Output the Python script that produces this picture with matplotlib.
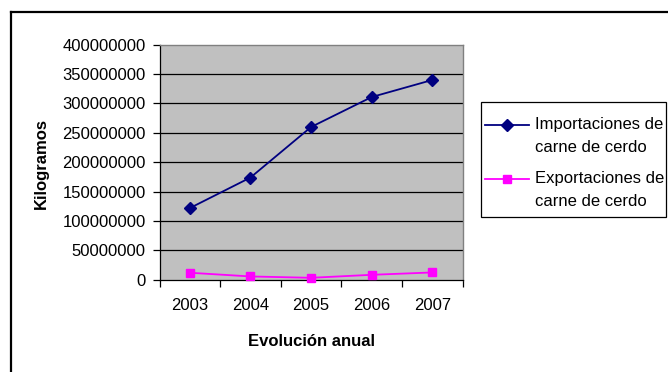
import matplotlib
matplotlib.use("Agg")
import matplotlib.pyplot as plt
from matplotlib.lines import Line2D
from matplotlib.patches import Rectangle

plt.rcParams['font.family'] = ['Liberation Sans', 'DejaVu Sans']

years = ["2003", "2004", "2005", "2006", "2007"]
importaciones = [122000000, 174000000, 260000000, 311000000, 340000000]
exportaciones = [12000000, 5700000, 3400000, 8500000, 12500000]
y_ticks = [0, 50000000, 100000000, 150000000, 200000000,
           250000000, 300000000, 350000000, 400000000]
series_labels = ["Importaciones de\ncarne de cerdo", "Exportaciones de\ncarne de cerdo"]
series_colors = ["#000080", "#FF00FF"]
series_markers = ["D", "s"]
series_msize = [6.5, 6]

W, H = 668, 372
FS = 12
fig = plt.figure(figsize=(W / 100, H / 100), dpi=100)


def fx(x):
    return x / W


def fy(y):
    return 1 - y / H


# outer chart frame (only its left and top edges are inside the canvas)
fig.add_artist(Line2D([fx(10.5), fx(10.5)], [0, fy(11.8)], color='black', lw=1.6,
                      transform=fig.transFigure))
fig.add_artist(Line2D([fx(10.5), 1], [fy(11.8), fy(11.8)], color='black', lw=1.6,
                      transform=fig.transFigure))

left, right, top, bottom = 159.5, 462.7, 44.7, 279.8
ax = fig.add_axes([fx(left), fy(bottom), (right - left) / W, (bottom - top) / H])
ax.set_facecolor('#C0C0C0')

x = list(range(len(years)))
ax.set_xlim(-0.5, len(years) - 0.5)
ax.set_ylim(0, 400000000)

for v in y_ticks[1:-1]:
    ax.axhline(v, color='black', lw=0.9, zorder=1)

for vals, col, mk, ms, lab in zip([importaciones, exportaciones], series_colors,
                                  series_markers, series_msize, series_labels):
    ax.plot(x, vals, color=col, lw=1.3, marker=mk, markersize=ms,
            markerfacecolor=col, markeredgecolor=col, zorder=3, clip_on=False,
            label=lab)

ax.set_yticks(y_ticks)
ax.set_yticklabels([str(v) for v in y_ticks])
ax.set_xticks(x)
ax.set_xticklabels(years)
ax.set_xticks([i - 0.5 for i in range(len(years) + 1)], minor=True)
ax.tick_params(axis='x', which='major', length=0, pad=13, labelsize=FS)
ax.tick_params(axis='x', which='minor', length=5, width=0.9, color='black')
ax.tick_params(axis='y', length=5, width=0.9, pad=5, labelsize=FS)

for side in ['top', 'right']:
    ax.spines[side].set_color('#808080')
    ax.spines[side].set_linewidth(1.0)
for side in ['left', 'bottom']:
    ax.spines[side].set_color('black')
    ax.spines[side].set_linewidth(0.9)

fig.text(fx(41.5), fy(163), 'Kilogramos', rotation=90, ha='center', va='center',
         fontsize=FS, fontweight='bold')
fig.text(fx(311), fy(341), 'Evolución anual', ha='center', va='center',
         fontsize=FS, fontweight='bold')

# legend box with line/marker keys aligned to the first text line of each entry
fig.add_artist(Rectangle((fx(480.5), fy(217)), (666 - 480.5) / W, (217 - 102) / H,
                         facecolor='white', edgecolor='black', lw=0.9,
                         transform=fig.transFigure))
entry_top = [125, 179]
for yc, col, mk, ms, lab in zip(entry_top, series_colors, series_markers,
                                series_msize, series_labels):
    fig.add_artist(Line2D([fx(485), fx(529)], [fy(yc), fy(yc)], color=col, lw=1.3,
                          transform=fig.transFigure))
    fig.add_artist(Line2D([fx(507)], [fy(yc)], color=col, marker=mk, markersize=ms - 0.5,
                          markerfacecolor=col, markeredgecolor=col,
                          transform=fig.transFigure))
    for k, line in enumerate(lab.split("\n")):
        fig.text(fx(535), fy(yc + 22 * k), line, ha='left', va='center', fontsize=FS)

fig.savefig('out.png', dpi=100)
